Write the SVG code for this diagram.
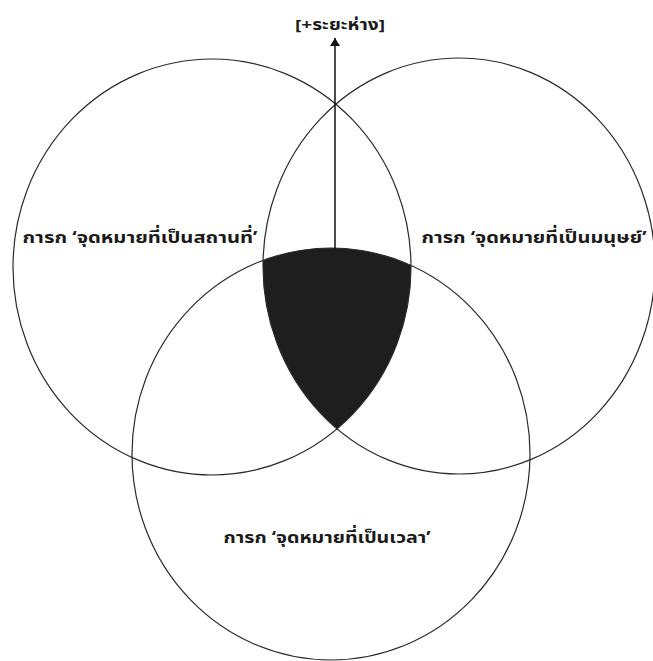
<svg xmlns="http://www.w3.org/2000/svg" width="653" height="661" viewBox="0 0 653 661">
<style>
.ring{fill:none;stroke:#2a2a2a;stroke-width:1.2}
.lbl{font-family:"Noto Sans Thai","Tahoma","DejaVu Sans","Liberation Sans",sans-serif;font-weight:bold;font-size:16.5px;fill:#1a1a1a;dominant-baseline:central}
</style>
<defs>
<clipPath id="cL"><ellipse cx="212" cy="267" rx="199" ry="208"/></clipPath>
<clipPath id="cR"><ellipse cx="459" cy="266" rx="196" ry="208"/></clipPath>
<marker id="ah" viewBox="0 0 8 10" refX="8" refY="5" markerWidth="8" markerHeight="10" markerUnits="userSpaceOnUse" orient="auto">
<path d="M0,0 L8,5 L0,10 z" fill="#111"/>
</marker>
</defs>
<rect width="653" height="661" fill="#ffffff"/>
<g id="shaded-intersection" clip-path="url(#cL)">
<g clip-path="url(#cR)">
<ellipse cx="331" cy="454" rx="199" ry="206" fill="#1e1e1e"/>
</g>
</g>
<g id="node-place">
<ellipse class="ring" cx="212" cy="267" rx="199" ry="208"/>
<text class="lbl" x="140" y="237" text-anchor="middle" textLength="235" lengthAdjust="spacingAndGlyphs">การก ‘จุดหมายที่เป็นสถานที่’</text>
</g>
<g id="node-human">
<ellipse class="ring" cx="459" cy="266" rx="196" ry="208"/>
<text class="lbl" x="534" y="237" text-anchor="middle" textLength="225" lengthAdjust="spacingAndGlyphs">การก ‘จุดหมายที่เป็นมนุษย์’</text>
</g>
<g id="node-time">
<ellipse class="ring" cx="331" cy="454" rx="199" ry="206"/>
<text class="lbl" x="327" y="537" text-anchor="middle" textLength="207" lengthAdjust="spacingAndGlyphs">การก ‘จุดหมายที่เป็นเวลา’</text>
</g>
<g id="node-distance">
<text class="lbl" x="340" y="25" text-anchor="middle" style="font-size:15px" textLength="90" lengthAdjust="spacingAndGlyphs">[+ระยะห่าง]</text>
</g>
<g id="connectors">
<line x1="335" y1="249" x2="335" y2="38" stroke="#111" stroke-width="1.5" marker-end="url(#ah)"/>
</g>
</svg>
